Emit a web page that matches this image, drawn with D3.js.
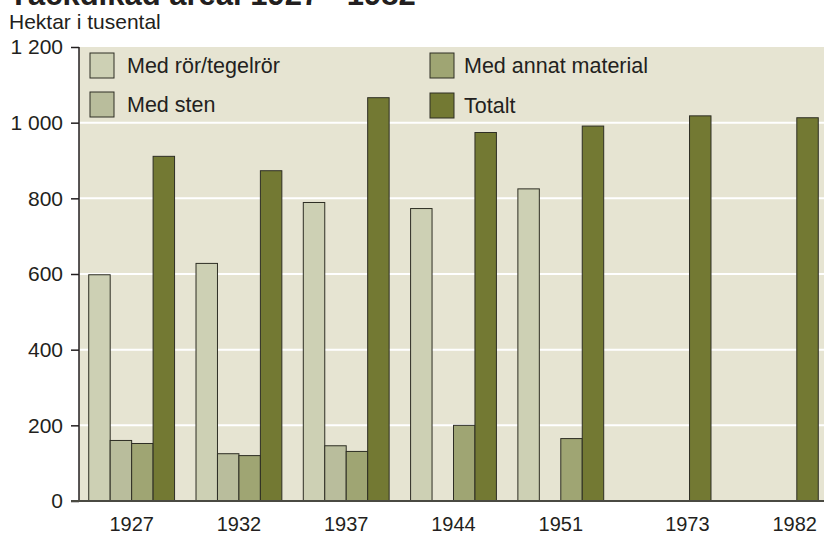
<!DOCTYPE html>
<html lang="sv">
<meta charset="utf-8">
<head>
    <title>Täckdikad areal 1927 - 1982</title>
    <script src="https://d3js.org/d3.v7.min.js"></script>
    <style>
        body { margin: 0; background: #fff; overflow: hidden; }
        svg { display: block; font-family: "Liberation Sans", Arial, sans-serif; }
    </style>
</head>
<body>
<div id="chart"></div>
<script>
    // data (hektar i tusental)
    const years = ["1927", "1932", "1937", "1944", "1951", "1973", "1982"];
    const seriesNames = ["Med rör/tegelrör", "Med sten", "Med annat material", "Totalt"];
    const medRor   = [598, 628, 789, 773, 825, null, null];
    const medSten  = [160, 125, 146, null, null, null, null];
    const medAnnat = [152, 120, 131, 200, 165, null, null];
    const totalt   = [911, 873, 1066, 974, 991, 1018, 1013];
    const yTicks = [0, 200, 400, 600, 800, 1000, 1200];
    const yTickLabels = ["0", "200", "400", "600", "800", "1 000", "1 200"];
    const colors = ["#cdd0b4", "#b9bd9c", "#9fa573", "#737933"];

    let width = 824, height = 534;
    let margin = {top: 47, left: 79, bottom: 33};

    let values = [medRor, medSten, medAnnat, totalt];

    let svg = d3.select("#chart").append("svg")
        .attr("width", width)
        .attr("height", height);

    let xScale = d3.scaleBand()
        .domain(years)
        .range([78, 829])
        .paddingInner(0.2)
        .paddingOuter(0.1);

    let xInner = d3.scaleBand()
        .domain(seriesNames)
        .range([0, xScale.bandwidth()]);

    let yScale = d3.scaleLinear()
        .domain([0, 1200])
        .range([height - margin.bottom, margin.top]);

    // plot background
    svg.append("rect")
        .attr("x", margin.left)
        .attr("y", yScale(1200))
        .attr("width", width - margin.left)
        .attr("height", yScale(0) - yScale(1200))
        .attr("fill", "#e6e4d2");

    // grid lines
    svg.append("g")
        .selectAll("line")
        .data(yTicks.filter(d => d > 0 && d < 1200))
        .enter().append("line")
        .attr("x1", margin.left)
        .attr("x2", width)
        .attr("y1", d => yScale(d))
        .attr("y2", d => yScale(d))
        .attr("stroke", "#fff")
        .attr("stroke-width", 2);

    // bars
    let groups = svg.append("g")
        .selectAll("g")
        .data(years)
        .enter().append("g")
        .attr("transform", d => "translate(" + xScale(d) + ",0)");

    groups.selectAll("rect")
        .data((d, i) => seriesNames.map((s, j) => ({s: s, j: j, v: values[j][i]})).filter(o => o.v != null))
        .enter().append("rect")
        .attr("x", d => xInner(d.s))
        .attr("y", d => yScale(d.v))
        .attr("width", xInner.bandwidth())
        .attr("height", d => yScale(0) - yScale(d.v))
        .attr("fill", d => colors[d.j])
        .attr("stroke", "#2e2e24")
        .attr("stroke-width", 1);

    // y axis
    let yAxis = d3.axisLeft(yScale)
        .tickValues(yTicks)
        .tickSize(8)
        .tickFormat((d, i) => yTickLabels[i]);

    let yg = svg.append("g")
        .attr("transform", "translate(" + margin.left + ",0)")
        .call(yAxis);
    yg.select(".domain").remove();
    yg.selectAll(".tick line").attr("stroke", "#231f20").attr("stroke-width", 1.5);
    yg.selectAll(".tick text")
        .attr("x", -16)
        .attr("font-size", 21)
        .attr("fill", "#231f20")
        .attr("font-family", "Liberation Sans, Arial, sans-serif");
    svg.append("line")
        .attr("x1", margin.left).attr("x2", margin.left)
        .attr("y1", yScale(1200)).attr("y2", yScale(0))
        .attr("stroke", "#231f20").attr("stroke-width", 1.5);

    // baseline
    svg.append("line")
        .attr("x1", margin.left - 8).attr("x2", width)
        .attr("y1", yScale(0)).attr("y2", yScale(0))
        .attr("stroke", "#4a4a42").attr("stroke-width", 2);

    // x labels: groups with only Totalt get label nudged toward the bar
    svg.append("g")
        .selectAll("text")
        .data(years)
        .enter().append("text")
        .attr("x", (d, i) => {
            let c = xScale(d) + xScale.bandwidth() / 2;
            if (medRor[i] == null) {
                let bc = xScale(d) + xInner("Totalt") + xInner.bandwidth() / 2;
                c = c + (bc - c) * 0.6;
            }
            return c;
        })
        .attr("y", 531)
        .attr("text-anchor", "middle")
        .attr("font-size", 20)
        .attr("fill", "#231f20")
        .text(d => d);

    // legend
    let legendPos = [[90, 53], [90, 92], [430, 53], [430, 93]];
    let legend = svg.append("g")
        .selectAll("g")
        .data(seriesNames)
        .enter().append("g")
        .attr("transform", (d, i) => "translate(" + legendPos[i][0] + "," + legendPos[i][1] + ")");
    legend.append("rect")
        .attr("width", 24)
        .attr("height", 25)
        .attr("fill", (d, i) => colors[i])
        .attr("stroke", "#2e2e24")
        .attr("stroke-width", 1);
    legend.append("text")
        .attr("x", (d, i) => i < 2 ? 37 : 34)
        .attr("y", 20)
        .attr("font-size", 21.5)
        .attr("fill", "#231f20")
        .text(d => d);

    // title (cut at the top, as in the source) and unit
    svg.append("text")
        .attr("x", 9)
        .attr("y", 5)
        .attr("font-size", 31)
        .attr("font-weight", "bold")
        .attr("fill", "#231f20")
        .text("Täckdikad areal 1927 - 1982");
    svg.append("text")
        .attr("x", 9)
        .attr("y", 29)
        .attr("font-size", 21)
        .attr("fill", "#231f20")
        .text("Hektar i tusental");
</script>
</body>
</html>
